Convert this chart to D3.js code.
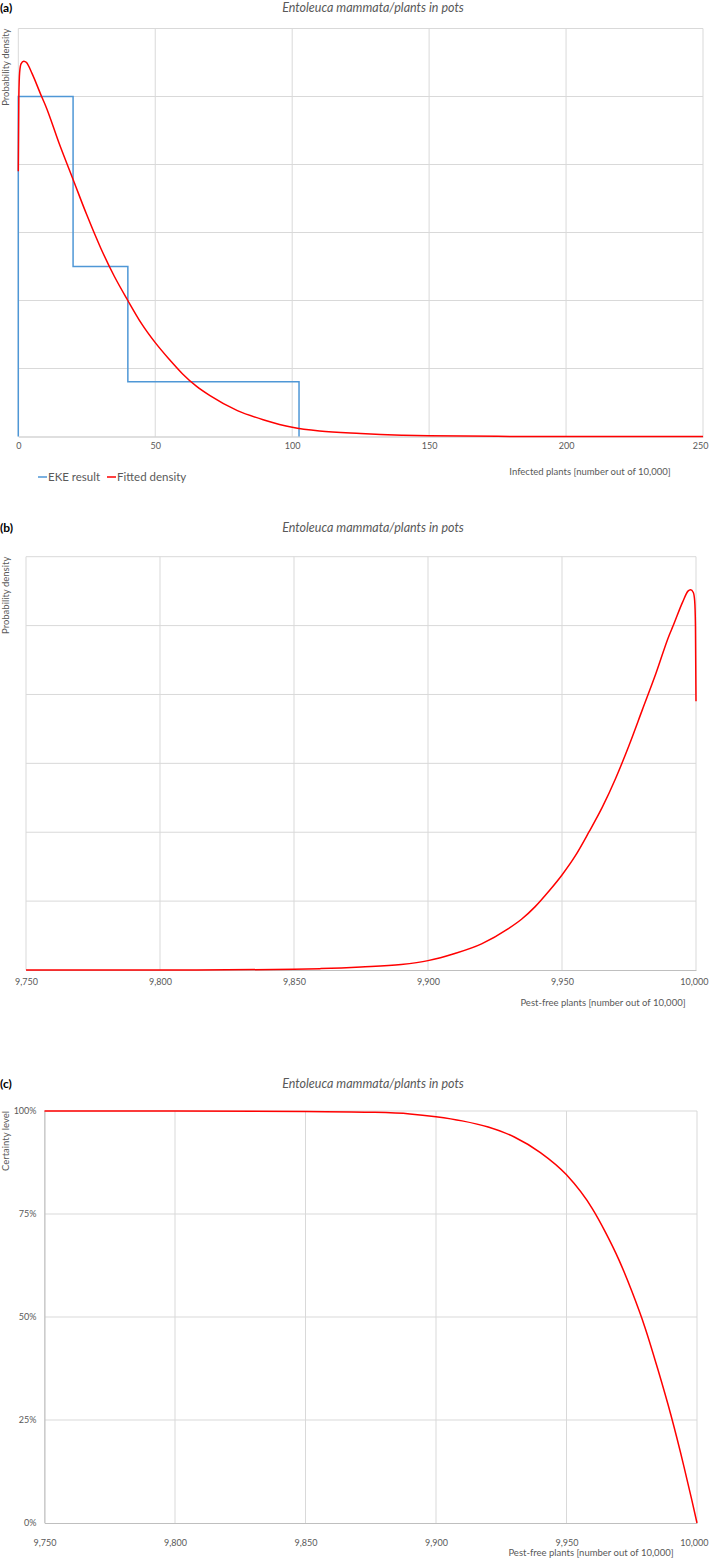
<!DOCTYPE html>
<html>
<head>
<meta charset="utf-8">
<script src="https://cdn.jsdelivr.net/npm/d3@7"></script>
<style>
  body { margin: 0; background: #fff; }
  text { font-family: Lato, "Open Sans", sans-serif; fill: #595959; }
</style>
</head>
<body>
<div id="chart"></div>
<script>
// Tick values for the axes
var infectedTicks = [0, 50, 100, 150, 200, 250];
var pestFreeTicks = [9750, 9800, 9850, 9900, 9950, 10000];
var densityTicks = [0, 0.005, 0.01, 0.015, 0.02, 0.025, 0.03];
var certaintyTicks = [0, 0.25, 0.5, 0.75, 1];

// EKE result (histogram of the elicited quantiles)
var ekeEdges = [0, 20, 40, 102.5];
var ekeDensity = [0.025, 0.0125, 0.00403];

// Fitted density, infected plants out of 10,000
var fittedX = [0, 0.2, 0.5, 1, 2, 3, 5, 8.5, 10, 15, 20, 25, 30, 35, 40, 45, 50, 55, 60, 65, 70, 80, 90, 100, 110, 125, 140, 150, 175, 200, 250];
var fittedDensity = [0.0195, 0.025, 0.0268, 0.0274, 0.0276, 0.0275, 0.0267, 0.025, 0.0243, 0.0215, 0.0189, 0.0163, 0.0139, 0.0118, 0.01, 0.0083, 0.0069, 0.0057, 0.0046, 0.0037, 0.003, 0.0019, 0.0012, 0.00068, 0.0004, 0.00022, 0.0001, 0.00005, 0.00001, 0, 0];

// Certainty level, pest-free plants out of 10,000
var certX = [9750, 9800, 9850, 9875, 9890, 9900, 9910, 9920, 9930, 9940, 9950, 9960, 9965, 9970, 9975, 9980, 9985, 9990, 9995, 9998, 10000];
var certY = [1, 1, 0.999, 0.997, 0.993, 0.986, 0.976, 0.961, 0.937, 0.899, 0.845, 0.762, 0.705, 0.64, 0.563, 0.476, 0.373, 0.262, 0.137, 0.056, 0];

var svgWidth = 709;
var svgHeight = 1559;
var titleText = "Entoleuca mammata/plants in pots";

var svg = d3.select("#chart")
  .append("svg")
  .attr("width", svgWidth)
  .attr("height", svgHeight);

// Draws the frame of one panel: gridlines, axis line, labels
function drawPanel(p) {
  var x = d3.scaleLinear().domain(p.xDomain).range([p.left, p.right]);
  var y = d3.scaleLinear().domain(p.yDomain).range([p.bottom, p.top]);

  svg.append("text")
    .attr("x", 0).attr("y", p.letterY)
    .style("font-weight", "bold").style("font-size", "12px").style("fill", "#000")
    .text(p.letter);

  svg.append("text")
    .attr("x", 373).attr("y", p.titleY)
    .attr("text-anchor", "middle")
    .style("font-style", "italic").style("font-size", "12.5px")
    .text(titleText);

  svg.append("text")
    .attr("transform", "translate(" + p.yLabelX + "," + p.top + ") rotate(-90)")
    .attr("text-anchor", "end")
    .style("font-size", "9.5px")
    .text(p.yLabel);

  // horizontal gridlines
  svg.append("g").selectAll("line")
    .data(p.yTicks.slice(1))
    .enter().append("line")
      .attr("x1", p.left).attr("x2", p.right)
      .attr("y1", d => y(d)).attr("y2", d => y(d))
      .attr("stroke", "#d9d9d9");

  // vertical gridlines
  svg.append("g").selectAll("line")
    .data(p.xTicks)
    .enter().append("line")
      .attr("x1", d => x(d)).attr("x2", d => x(d))
      .attr("y1", p.top).attr("y2", p.bottom)
      .attr("stroke", "#d9d9d9");

  // bottom axis with labels
  var bottomAxis = d3.axisBottom(x)
    .tickValues(p.xTicks)
    .tickSize(0)
    .tickPadding(p.xPad)
    .tickFormat(d3.format(","));
  var ax = svg.append("g")
    .attr("transform", "translate(0," + p.bottom + ")")
    .call(bottomAxis);
  ax.select(".domain").attr("stroke", "#bfbfbf");
  ax.selectAll("text").style("font-size", "9px").style("fill", "#595959")
    .style("font-family", "Lato, sans-serif");

  // keep the last tick label inside the page edge
  ax.selectAll(".tick").each(function(d) {
    var t = d3.select(this).select("text");
    var box = this.querySelector("text").getBBox();
    var right = x(d) + box.x + box.width;
    if (right > svgWidth - 1) t.attr("dx", (svgWidth - 1 - right) + "px");
  });

  if (p.yFormat) {
    var leftAxis = d3.axisLeft(y)
      .tickValues(p.yTicks)
      .tickSize(0)
      .tickPadding(8)
      .tickFormat(p.yFormat);
    var ay = svg.append("g")
      .attr("transform", "translate(" + p.left + ",0)")
      .call(leftAxis);
    ay.select(".domain").attr("stroke", "#bfbfbf");
    ay.selectAll("text").style("font-size", "9px").style("fill", "#595959")
      .style("font-family", "Lato, sans-serif");
  }

  svg.append("text")
    .attr("x", p.xLabelX).attr("y", p.xLabelY)
    .attr("text-anchor", "middle")
    .style("font-size", "9.5px")
    .text(p.xLabel);

  return { x: x, y: y };
}

// ---- Panel (a) ----
var a = drawPanel({
  letter: "(a)", letterY: 12, titleY: 12,
  left: 18.3, right: 703, top: 28.5, bottom: 436.5,
  xDomain: [0, 250], yDomain: [0, 0.03],
  xTicks: infectedTicks, yTicks: densityTicks, xPad: 6.5,
  yLabel: "Probability density", yLabelX: 9,
  xLabel: "Infected plants [number out of 10,000]", xLabelX: 590, xLabelY: 475
});

// EKE step outline built from the bin edges
var ekePts = [[ekeEdges[0], 0]];
ekeDensity.forEach(function(h, i) {
  ekePts.push([ekeEdges[i], h]);
  ekePts.push([ekeEdges[i + 1], h]);
});
ekePts.push([ekeEdges[ekeEdges.length - 1], 0]);

svg.append("path")
  .datum(ekePts)
  .attr("fill", "none")
  .attr("stroke", "#4f97d6")
  .attr("stroke-width", 1.5)
  .attr("d", d3.line().x(d => a.x(d[0])).y(d => a.y(d[1])));

var fitted = fittedX.map((v, i) => [v, fittedDensity[i]]);
svg.append("path")
  .datum(fitted)
  .attr("fill", "none")
  .attr("stroke", "#ff0000")
  .attr("stroke-width", 1.5)
  .attr("d", d3.line().curve(d3.curveMonotoneX).x(d => a.x(d[0])).y(d => a.y(d[1])));

// legend
var legend = svg.append("g").attr("transform", "translate(38,477)");
[["EKE result", "#4f97d6", 0], ["Fitted density", "#ff0000", 69]].forEach(function(item) {
  legend.append("line")
    .attr("x1", item[2]).attr("x2", item[2] + 9)
    .attr("y1", 0).attr("y2", 0)
    .attr("stroke", item[1]).attr("stroke-width", 1.5);
  legend.append("text")
    .attr("x", item[2] + 10).attr("y", 4)
    .style("font-size", "11.5px")
    .text(item[0]);
});

// ---- Panel (b) ----
var b = drawPanel({
  letter: "(b)", letterY: 532, titleY: 532,
  left: 26, right: 696, top: 556.7, bottom: 970,
  xDomain: [9750, 10000], yDomain: [0, 0.03],
  xTicks: pestFreeTicks, yTicks: densityTicks, xPad: 8.5,
  yLabel: "Probability density", yLabelX: 9,
  xLabel: "Pest-free plants [number out of 10,000]", xLabelX: 603, xLabelY: 1006
});

// same fitted density, read as pest-free = 10,000 - infected
var fittedPestFree = fitted.map(d => [10000 - d[0], d[1]]).reverse();
svg.append("path")
  .datum(fittedPestFree)
  .attr("fill", "none")
  .attr("stroke", "#ff0000")
  .attr("stroke-width", 1.5)
  .attr("d", d3.line().curve(d3.curveMonotoneX).x(d => b.x(d[0])).y(d => b.y(d[1])));

// ---- Panel (c) ----
var c = drawPanel({
  letter: "(c)", letterY: 1088, titleY: 1088,
  left: 44.5, right: 697, top: 1111, bottom: 1523,
  xDomain: [9750, 10000], yDomain: [0, 1],
  xTicks: pestFreeTicks, yTicks: certaintyTicks, xPad: 16.5,
  yFormat: d3.format(".0%"),
  yLabel: "Certainty level", yLabelX: 9,
  xLabel: "Pest-free plants [number out of 10,000]", xLabelX: 591, xLabelY: 1556
});

svg.append("path")
  .datum(certX.map((v, i) => [v, certY[i]]))
  .attr("fill", "none")
  .attr("stroke", "#ff0000")
  .attr("stroke-width", 1.5)
  .attr("d", d3.line().curve(d3.curveMonotoneX).x(d => c.x(d[0])).y(d => c.y(d[1])));
</script>
</body>
</html>
